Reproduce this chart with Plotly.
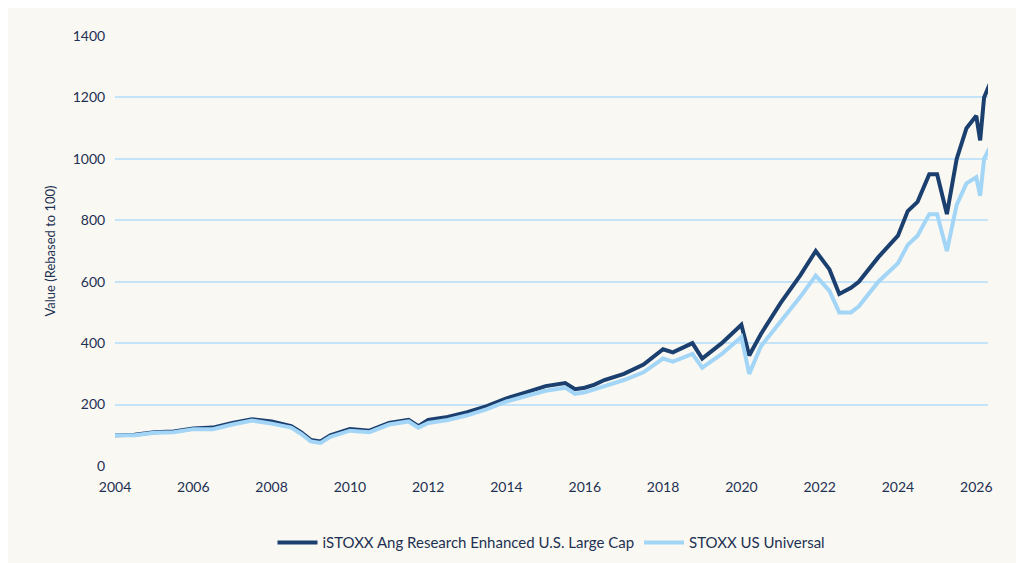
import plotly.graph_objects as go

dates = [2004.0, 2004.5, 2005.0, 2005.5, 2006.0, 2006.5, 2007.0, 2007.5, 2008.0, 2008.5,
         2008.75, 2009.0, 2009.25, 2009.5, 2010.0, 2010.5, 2011.0, 2011.5, 2011.75, 2012.0,
         2012.5, 2013.0, 2013.5, 2014.0, 2014.5, 2015.0, 2015.5, 2015.75, 2016.0, 2016.25,
         2016.5, 2017.0, 2017.5, 2018.0, 2018.25, 2018.75, 2019.0, 2019.5, 2020.0, 2020.2,
         2020.5, 2021.0, 2021.5, 2021.9, 2022.25, 2022.5, 2022.8, 2023.0, 2023.5, 2024.0,
         2024.25, 2024.5, 2024.8, 2025.0, 2025.25, 2025.5, 2025.75, 2026.0, 2026.1, 2026.2,
         2026.4]

enhanced = [100, 102, 110, 112, 122, 125, 140, 152, 145, 130,
            110, 85, 80, 100, 120, 115, 140, 150, 130, 150,
            160, 175, 195, 220, 240, 260, 270, 250, 255, 265,
            280, 300, 330, 380, 370, 400, 350, 400, 460, 360,
            430, 530, 620, 700, 640, 560, 580, 600, 680, 750,
            830, 860, 950, 950, 820, 1000, 1100, 1140, 1060, 1200,
            1260]

universal = [100, 100, 108, 110, 120, 120, 135, 148, 138, 125,
             105, 80, 75, 95, 115, 110, 135, 145, 125, 140,
             150, 165, 185, 210, 228, 245, 255, 235, 240, 250,
             262, 280, 305, 350, 340, 365, 320, 365, 420, 300,
             390, 470, 550, 620, 570, 500, 500, 520, 600, 660,
             720, 750, 820, 820, 700, 850, 920, 940, 880, 1000,
             1050]

x_ticks = [2004, 2006, 2008, 2010, 2012, 2014, 2016, 2018, 2020, 2022, 2024, 2026]

fig = go.Figure()
fig.add_trace(go.Scatter(x=dates, y=enhanced, mode='lines',
                         name='iSTOXX Ang Research Enhanced U.S. Large Cap',
                         line=dict(color='#1b3f6e', width=4)))
fig.add_trace(go.Scatter(x=dates, y=universal, mode='lines',
                         name='STOXX US Universal',
                         line=dict(color='#a3d5f7', width=4)))

fig.update_layout(
    width=1024, height=563,
    paper_bgcolor='#f9f8f2', plot_bgcolor='#f9f8f2',
    font=dict(family='Lato', size=14, color='#1e3152'),
    margin=dict(l=107, r=44, t=28, b=100),
    legend=dict(orientation='h', x=0.5, xanchor='center', y=-0.14, yanchor='top',
                font=dict(size=15), itemwidth=40),
    xaxis=dict(range=[2004, 2026.3], tickvals=x_ticks, showgrid=False,
               zeroline=False, showline=False, ticks='outside', ticklen=8,
               tickcolor='rgba(0,0,0,0)', automargin=False),
    yaxis=dict(title=dict(text='Value (Rebased to 100)', font=dict(size=13), standoff=14),
               range=[0, 1400], dtick=200, gridcolor='#c5e4f7', gridwidth=1.5,
               zeroline=False, ticks='outside', ticklen=6,
               tickcolor='rgba(0,0,0,0)', automargin=False),
)

fig.write_html('out.html')
